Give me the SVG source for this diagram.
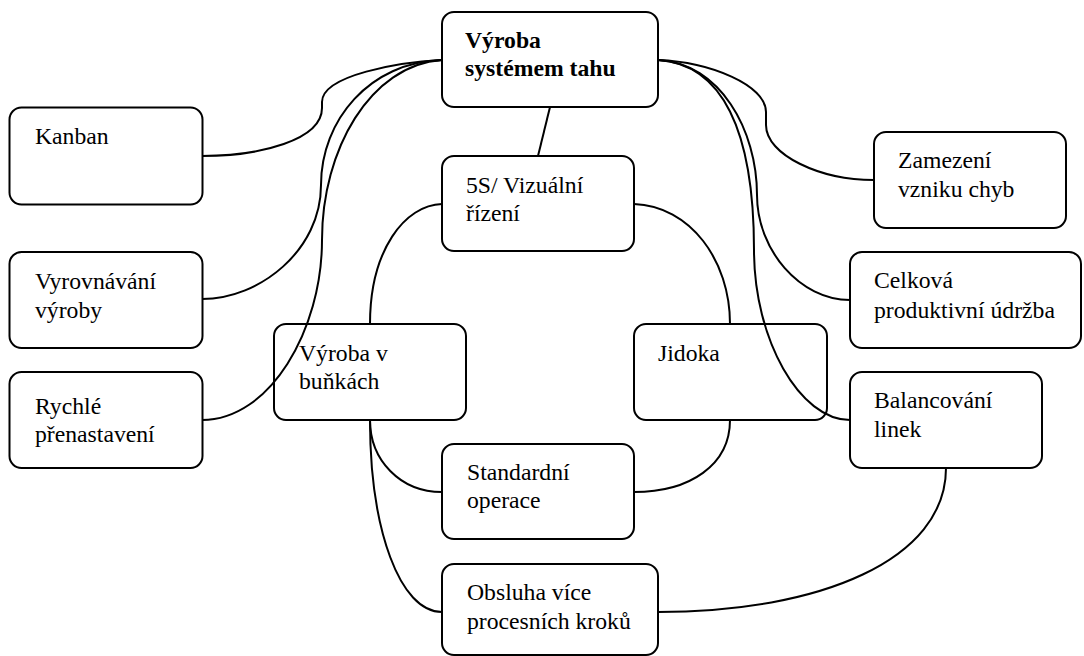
<svg xmlns="http://www.w3.org/2000/svg" width="1084" height="656" viewBox="0 0 1084 656">
<style>
.box{fill:#fff;stroke:#000;stroke-width:2}
.t{font-size:23.7px;fill:#000}
.b{font-weight:bold}
.c{fill:none;stroke:#000;stroke-width:2}
</style>
<rect width="1084" height="656" fill="#fff"/>
<g id="connectors">
<path class="c" d="M550,107 L538,156"/>
<path class="c" d="M442,60 C400,62 322,75 322,102 L322,108 C322,140 260,156 202,156"/>
<path class="c" d="M442,60 C370,62 321,120 321,185 C321,250 260,299 202,299"/>
<path class="c" d="M442,60 C370,65 322,150 322,240 C322,330 270,420 202,420"/>
<path class="c" d="M658,60 C710,62 766,85 766,112 L766,125 C766,155 820,180 874,180"/>
<path class="c" d="M658,60 C720,63 757,130 757,195 C757,250 800,300 850,300"/>
<path class="c" d="M658,60 C722,64 754,130 754,250 C754,340 800,420 850,420"/>
<path class="c" d="M442,204 C405,205 370,250 370,324"/>
<path class="c" d="M634,204 C690,206 730,260 730,324"/>
<path class="c" d="M730,420 C730,465 690,492 634,492"/>
<path class="c" d="M370,420 C370,460 400,492 442,492"/>
<path class="c" d="M370,420 C370,530 400,612 442,612"/>
<path class="c" d="M946,468 C946,560 820,612 658,612"/>
</g>
<g font-family="Liberation Serif, DejaVu Serif, serif">
<g id="n-top"><rect class="box" x="442" y="12" width="216" height="95" rx="12"/>
<text class="t b" x="465" y="48">Výroba</text><text class="t b" x="465" y="76">systémem tahu</text></g>
<g id="n-5s"><rect class="box" x="442" y="156" width="192" height="95" rx="12"/>
<text class="t" x="466" y="193">5S/ Vizuální</text><text class="t" x="466" y="221">řízení</text></g>
<g id="n-kanban"><rect class="box" x="9.5" y="107.5" width="193" height="97" rx="12"/>
<text class="t" x="35" y="144">Kanban</text></g>
<g id="n-vyrovnavani"><rect class="box" x="9.5" y="252" width="193" height="96" rx="12"/>
<text class="t" x="35" y="289">Vyrovnávání</text><text class="t" x="35" y="318">výroby</text></g>
<g id="n-rychle"><rect class="box" x="9.5" y="372" width="193" height="96" rx="12"/>
<text class="t" x="35" y="414">Rychlé</text><text class="t" x="35" y="442">přenastavení</text></g>
<g id="n-bunky"><rect class="box" x="274" y="324" width="192" height="96" rx="12" fill-opacity="0"/>
<text class="t" x="299" y="361">Výroba v</text><text class="t" x="299" y="389">buňkách</text></g>
<g id="n-jidoka"><rect class="box" x="634" y="324" width="193" height="96" rx="12" fill-opacity="0"/>
<text class="t" x="658" y="361">Jidoka</text></g>
<g id="n-standard"><rect class="box" x="442" y="444" width="192" height="95" rx="12"/>
<text class="t" x="467" y="480">Standardní</text><text class="t" x="467" y="508">operace</text></g>
<g id="n-obsluha"><rect class="box" x="442" y="564" width="216" height="91" rx="12"/>
<text class="t" x="467" y="600">Obsluha více</text><text class="t" x="467" y="629">procesních kroků</text></g>
<g id="n-zamezeni"><rect class="box" x="874" y="132" width="192" height="96" rx="12"/>
<text class="t" x="898" y="168">Zamezení</text><text class="t" x="898" y="197">vzniku chyb</text></g>
<g id="n-celkova"><rect class="box" x="850" y="252" width="231" height="96" rx="12"/>
<text class="t" x="874" y="288">Celková</text><text class="t" x="874" y="318">produktivní údržba</text></g>
<g id="n-balancovani"><rect class="box" x="850" y="372" width="192" height="96" rx="12"/>
<text class="t" x="874" y="408">Balancování</text><text class="t" x="874" y="437">linek</text></g>
</g>
</svg>
